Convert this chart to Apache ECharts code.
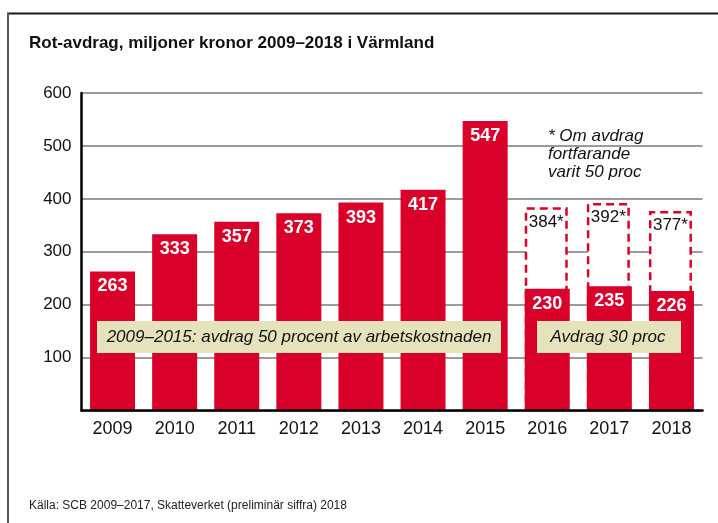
<!DOCTYPE html>
<html>
<head>
<meta charset="utf-8">
<script src="https://cdn.jsdelivr.net/npm/echarts@6/dist/echarts.min.js"></script>
<style>
html,body{margin:0;padding:0;background:#fff;}
#c{width:718px;height:523px;}
</style>
</head>
<body>
<div id="c"></div>
<script>
const years = ['2009','2010','2011','2012','2013','2014','2015','2016','2017','2018'];
const actual = [263, 333, 357, 373, 393, 417, 547, 230, 235, 226];
const hypothetical = [null, null, null, null, null, null, null, 384, 392, 377];
const yTicks = [0, 100, 200, 300, 400, 500, 600];

const RED = '#d9002a';
const FONT = "'Liberation Sans', Arial, Helvetica, sans-serif";

const chart = echarts.init(document.getElementById('c'), null, {renderer: 'canvas'});
chart.setOption({
  animation: false,
  backgroundColor: '#fff',
  textStyle: {fontFamily: FONT},
  grid: {left: 81.5, right: 15.5, top: 93, bottom: 112.4, containLabel: false},
  xAxis: {
    type: 'category',
    data: years,
    axisTick: {show: false},
    axisLine: {show: true, lineStyle: {color: '#000', width: 2.5}},
    axisLabel: {color: '#111', fontSize: 18, margin: 9, fontFamily: FONT},
    z: 5
  },
  yAxis: {
    type: 'value',
    min: yTicks[0],
    max: yTicks[yTicks.length - 1],
    interval: 100,
    axisTick: {show: false},
    axisLine: {show: true, lineStyle: {color: '#000', width: 2.5}},
    axisLabel: {color: '#111', fontSize: 17, margin: 10, fontFamily: FONT,
      formatter: v => v === 0 ? '' : String(v)},
    splitLine: {show: true, lineStyle: {color: '#7a7a7a', width: 1.5}}
  },
  series: [
    {
      type: 'bar',
      data: hypothetical,
      barWidth: 43,
      itemStyle: {color: '#fff', borderColor: RED, borderWidth: 2.5, borderType: [8, 5]},
      label: {show: true, position: 'insideTop', distance: 6, color: '#111',
        fontSize: 17, fontFamily: FONT,
        formatter: p => p.value + '*'},
      z: 2
    },
    {
      type: 'bar',
      data: actual,
      barWidth: 45,
      barGap: '-100%',
      itemStyle: {color: RED},
      label: {show: true, position: 'insideTop', distance: 6, color: '#fff',
        fontWeight: 'bold', fontSize: 18, fontFamily: FONT},
      z: 3
    }
  ],
  graphic: [
    {type: 'line', shape: {x1: 7, y1: 13.5, x2: 718, y2: 13.5}, style: {stroke: '#1a1a1a', lineWidth: 2}, z: 20},
    {type: 'line', shape: {x1: 8, y1: 13, x2: 8, y2: 523}, style: {stroke: '#555', lineWidth: 2}, z: 20},
    {type: 'text', left: 29, top: 35, z: 20,
      style: {text: 'Rot-avdrag, miljoner kronor 2009–2018 i Värmland', fill: '#111',
        font: "bold 17px 'Liberation Sans', Arial, sans-serif"}},
    {type: 'rect', shape: {x: 97, y: 321, width: 404, height: 32}, style: {fill: '#e4e3bb'}, z: 20},
    {type: 'text', x: 299, y: 337, z: 21,
      style: {text: '2009–2015: avdrag 50 procent av arbetskostnaden', fill: '#111',
        align: 'center', verticalAlign: 'middle',
        font: "italic 17px 'Liberation Sans', Arial, sans-serif"}},
    {type: 'rect', shape: {x: 537, y: 321, width: 144, height: 32}, style: {fill: '#e4e3bb'}, z: 20},
    {type: 'text', x: 608, y: 337, z: 21,
      style: {text: 'Avdrag 30 proc', fill: '#111',
        align: 'center', verticalAlign: 'middle',
        font: "italic 17px 'Liberation Sans', Arial, sans-serif"}},
    {type: 'text', x: 548, y: 127, z: 21,
      style: {text: '* Om avdrag\nfortfarande\nvarit 50 proc', fill: '#111', lineHeight: 18,
        align: 'left', verticalAlign: 'top',
        font: "italic 17px 'Liberation Sans', Arial, sans-serif"}},
    {type: 'text', x: 29, y: 506, z: 21,
      style: {text: 'Källa: SCB 2009–2017, Skatteverket (preliminär siffra) 2018', fill: '#222',
        align: 'left', verticalAlign: 'middle',
        font: "12px 'Liberation Sans', Arial, sans-serif"}}
  ]
});
</script>
</body>
</html>
